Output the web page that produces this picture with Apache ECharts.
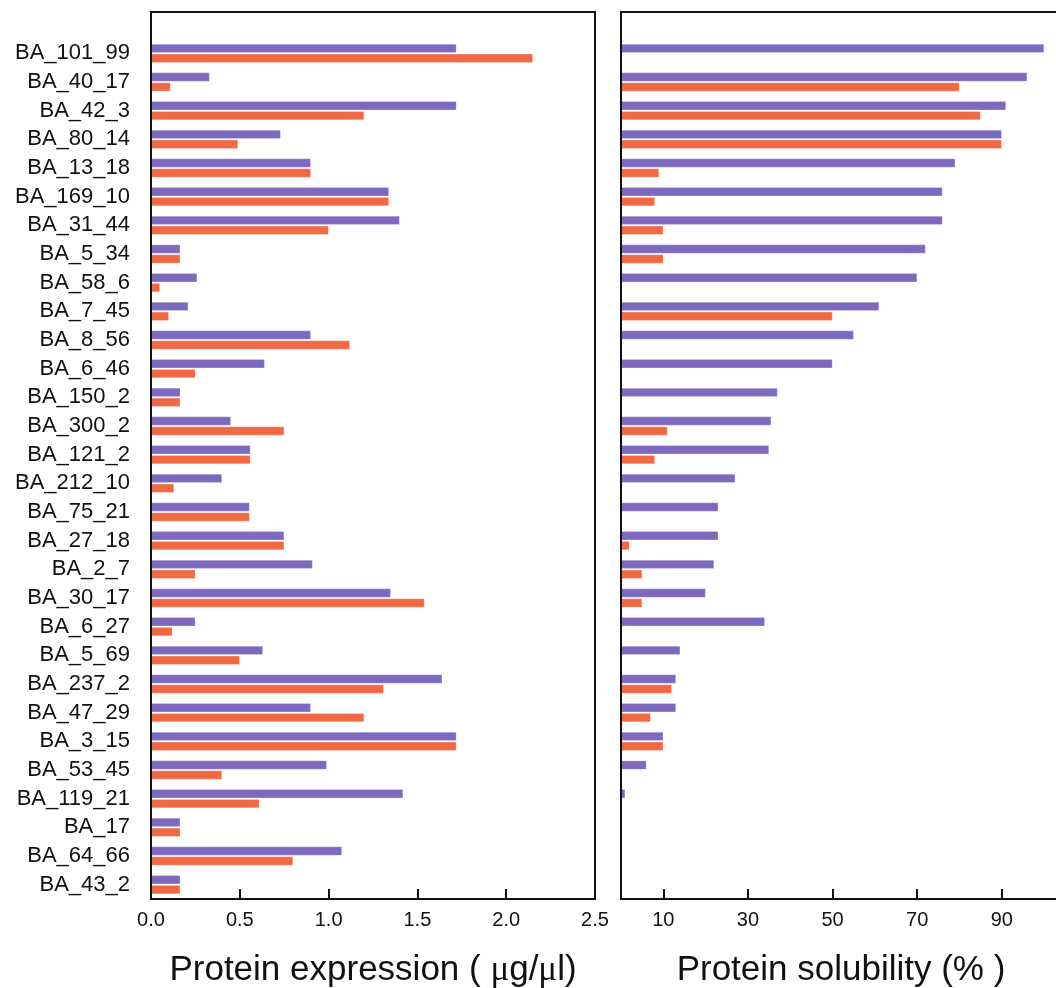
<!DOCTYPE html>
<html>
<head>
<meta charset="utf-8">
<script src="https://cdn.jsdelivr.net/npm/echarts@6/dist/echarts.min.js"></script>
<style>
    html, body { margin: 0; padding: 0; background: #fff; }
    #chart { width: 1056px; height: 988px; }
</style>
</head>
<body>
<div id="chart"></div>
<script>
// 構建名稱
const constructs = [
    'BA_101_99', 'BA_40_17', 'BA_42_3', 'BA_80_14', 'BA_13_18', 'BA_169_10',
    'BA_31_44', 'BA_5_34', 'BA_58_6', 'BA_7_45', 'BA_8_56', 'BA_6_46',
    'BA_150_2', 'BA_300_2', 'BA_121_2', 'BA_212_10', 'BA_75_21', 'BA_27_18',
    'BA_2_7', 'BA_30_17', 'BA_6_27', 'BA_5_69', 'BA_237_2', 'BA_47_29',
    'BA_3_15', 'BA_53_45', 'BA_119_21', 'BA_17', 'BA_64_66', 'BA_43_2'
]

// 蛋白表現量 (μg/μl)
const expressionPurple = [
    1.72, 0.33, 1.72, 0.73, 0.90, 1.34, 1.40, 0.165, 0.26, 0.21,
    0.90, 0.64, 0.165, 0.45, 0.56, 0.40, 0.555, 0.75, 0.91, 1.35,
    0.25, 0.63, 1.64, 0.90, 1.72, 0.99, 1.42, 0.165, 1.075, 0.165
]
const expressionOrange = [
    2.15, 0.11, 1.20, 0.49, 0.90, 1.34, 1.00, 0.165, 0.05, 0.10,
    1.12, 0.25, 0.165, 0.75, 0.56, 0.13, 0.555, 0.75, 0.25, 1.54,
    0.12, 0.50, 1.31, 1.20, 1.72, 0.40, 0.61, 0.165, 0.80, 0.165
]

// 蛋白溶解度 (%)
const solubilityPurple = [
    100, 96, 91, 90, 79, 76, 76, 72, 70, 61,
    55, 50, 37, 35.5, 35, 27, 23, 23, 22, 20,
    34, 14, 13, 13, 10, 6, 1, 0, 0, 0
]
const solubilityOrange = [
    0, 80, 85, 90, 9, 8, 10, 10, 0, 50,
    0, 0, 0, 11, 8, 0, 0, 2, 5, 5,
    0, 0, 12, 7, 10, 0, 0, 0, 0, 0
]

const expressionTicks = [0, 0.5, 1.0, 1.5, 2.0, 2.5]
const solubilityTicks = [10, 30, 50, 70, 90]

const purple = '#7d69bd'
const orange = '#ef6945'
const ink = '#111'
const font = '"Liberation Sans", Arial, sans-serif'

const chart = echarts.init(document.getElementById('chart'), null, { renderer: 'canvas' })

// 資料區 (不讓 v6 自動縮放)
const dataGrid = (left, width) => ({
    left, width, top: 39, bottom: 89, outerBoundsMode: 'none'
})

// 外框 (右側面板超出畫布)
const frameGrid = (left, width) => ({
    left, width, top: 12, bottom: 89, outerBoundsMode: 'none',
    show: true, borderColor: ink, borderWidth: 2,
    backgroundColor: 'transparent', z: 5
})

const barSeries = (data, color, axisIndex) => ({
    type: 'bar',
    data,
    xAxisIndex: axisIndex,
    yAxisIndex: axisIndex,
    barWidth: 9,
    barGap: '10%',
    itemStyle: { color, borderColor: 'rgba(255,255,255,0.45)', borderWidth: 0.6 },
    silent: true,
    animation: false
})

chart.setOption({
    backgroundColor: '#fff',
    textStyle: { fontFamily: font },
    grid: [
        dataGrid(151, 444),
        dataGrid(621, 440),
        frameGrid(151, 444),
        frameGrid(621, 440)
    ],
    xAxis: [
        {
            type: 'value', gridIndex: 0,
            min: expressionTicks[0], max: expressionTicks[expressionTicks.length - 1], interval: 0.5,
            splitLine: { show: false },
            axisLine: { show: false },
            axisTick: { show: true, inside: true, length: 10, lineStyle: { color: ink, width: 2 } },
            axisLabel: { color: ink, fontSize: 20, margin: 11, formatter: v => v.toFixed(1), showMinLabel: true, showMaxLabel: true },
            name: 'Protein expression ( {mu|μ}g/{mu|μ}l)',
            nameLocation: 'middle', nameGap: 54,
            nameTextStyle: {
                color: ink, fontSize: 35,
                rich: { mu: { fontFamily: '"Liberation Serif", serif', fontSize: 35, color: ink } }
            }
        },
        {
            type: 'value', gridIndex: 1,
            min: 0, max: 104,
            splitLine: { show: false },
            axisLine: { show: false },
            axisTick: { show: true, inside: true, length: 10, customValues: solubilityTicks, lineStyle: { color: ink, width: 2 } },
            axisLabel: { color: ink, fontSize: 20, margin: 11, customValues: solubilityTicks },
            name: 'Protein solubility (% )',
            nameLocation: 'middle', nameGap: 54,
            nameTextStyle: { color: ink, fontSize: 35 }
        },
        { type: 'value', gridIndex: 2, show: false },
        { type: 'value', gridIndex: 3, show: false }
    ],
    yAxis: [
        {
            type: 'category', gridIndex: 0, inverse: true, data: constructs,
            axisLine: { show: false }, axisTick: { show: false },
            axisLabel: { color: ink, fontSize: 22, margin: 21, interval: 0 }
        },
        {
            type: 'category', gridIndex: 1, inverse: true, data: constructs,
            axisLine: { show: false }, axisTick: { show: false },
            axisLabel: { show: false }
        },
        { type: 'value', gridIndex: 2, show: false },
        { type: 'value', gridIndex: 3, show: false }
    ],
    series: [
        barSeries(expressionPurple, purple, 0),
        barSeries(expressionOrange, orange, 0),
        barSeries(solubilityPurple, purple, 1),
        barSeries(solubilityOrange, orange, 1)
    ]
})
</script>
</body>
</html>
